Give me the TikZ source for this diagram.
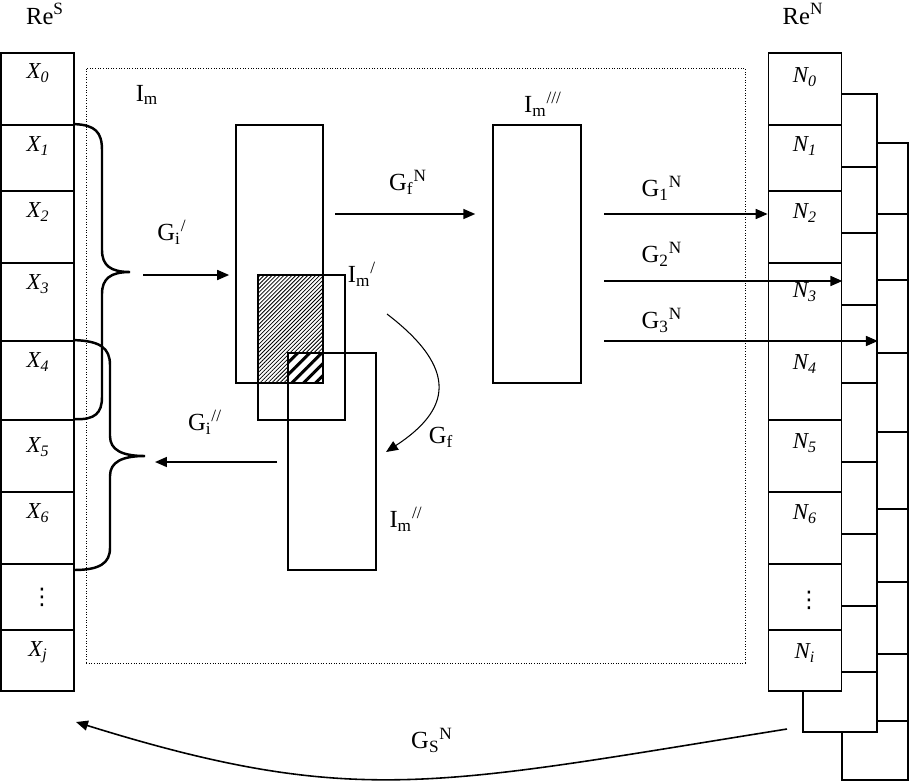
\documentclass[tikz,border=0pt]{standalone}
\usepackage{fontspec}
\setmainfont{Liberation Serif}
\newfontfamily\dotsfont{DejaVu Sans}
\usetikzlibrary{arrows.meta,patterns.meta}

\begin{document}
\begin{tikzpicture}[x=0.02cm, y=-0.02cm]
\tikzstyle{cell}=[draw, fill=white, line width=1pt, minimum width=1.46cm, inner sep=0pt];
\tikzstyle{frame}=[draw, line width=1pt, inner sep=0pt];
\tikzstyle{lab}=[inner sep=0pt, font=\fontsize{14}{16}\selectfont];
\tikzstyle{idx}=[inner sep=0pt, font=\fontsize{13}{15}\selectfont\itshape];
\tikzstyle{vdot}=[inner sep=0pt, font=\fontsize{13}{15}\selectfont\dotsfont];
\tikzstyle{arr}=[line width=0.9pt, -{Triangle[length=6.8pt,width=5.7pt]}];
\tikzstyle{brace}=[line width=1.4pt];
\useasboundingbox (0,0) rectangle (910,782);
% dotted frame I_m
\node[draw, densely dotted, line width=0.5pt, minimum width=13.18cm, minimum height=11.9cm] (imframe) at (415.5,365.5) {};
% Re^S
\node[cell, minimum height=1.44cm] (cx0) at (37.5,89) {};
\node[cell, minimum height=1.32cm] (cx1) at (37.5,158) {};
\node[cell, minimum height=1.44cm] (cx2) at (37.5,227) {};
\node[cell, minimum height=1.56cm] (cx3) at (37.5,302) {};
\node[cell, minimum height=1.58cm] (cx4) at (37.5,380.5) {};
\node[cell, minimum height=1.44cm] (cx5) at (37.5,456) {};
\node[cell, minimum height=1.44cm] (cx6) at (37.5,528) {};
\node[cell, minimum height=1.32cm] (cxd) at (37.5,597) {};
\node[cell, minimum height=1.22cm] (cxj) at (37.5,660.5) {};
\node[idx] (x0) at (38,73) {X\textsubscript{0}};
\node[idx] (x1) at (38,146) {X\textsubscript{1}};
\node[idx] (x2) at (38,212) {X\textsubscript{2}};
\node[idx] (x3) at (38,284) {X\textsubscript{3}};
\node[idx] (x4) at (38,362) {X\textsubscript{4}};
\node[idx] (x5) at (38,447) {X\textsubscript{5}};
\node[idx] (x6) at (38,513) {X\textsubscript{6}};
\node[vdot] (xd) at (42,597) {⋮};
\node[idx] (xj) at (38,652) {X\textsubscript{j}};
\node[lab] (res) at (45,14) {Re\textsuperscript{S}};
% Re^N, two copies behind
\node[draw, fill=white, line width=1pt, minimum width=1.32cm, minimum height=12.74cm] (bk3) at (875,461.5) {};
\draw[line width=1pt] (842,214) -- (908,214) (842,280) -- (908,280)
(842,353) -- (908,353) (842,432) -- (908,432)
(842,509) -- (908,509) (842,582) -- (908,582)
(842,654) -- (908,654) (842,721) -- (908,721);
\node[draw, fill=white, line width=1pt, minimum width=1.48cm, minimum height=12.76cm] (bk2) at (840,413) {};
\draw[line width=1pt] (803,167) -- (877,167) (803,233) -- (877,233)
(803,305) -- (877,305) (803,383) -- (877,383)
(803,462) -- (877,462) (803,534) -- (877,534)
(803,606) -- (877,606) (803,672) -- (877,672);
\node[cell, minimum height=1.44cm] (cn0) at (805,89) {};
\node[cell, minimum height=1.32cm] (cn1) at (805,158) {};
\node[cell, minimum height=1.44cm] (cn2) at (805,227) {};
\node[cell, minimum height=1.56cm] (cn3) at (805,302) {};
\node[cell, minimum height=1.58cm] (cn4) at (805,380.5) {};
\node[cell, minimum height=1.44cm] (cn5) at (805,456) {};
\node[cell, minimum height=1.44cm] (cn6) at (805,528) {};
\node[cell, minimum height=1.32cm] (cnd) at (805,597) {};
\node[cell, minimum height=1.22cm] (cni) at (805,660.5) {};
\node[idx] (n0) at (805,77) {N\textsubscript{0}};
\node[idx] (n1) at (805,146) {N\textsubscript{1}};
\node[idx] (n2) at (805,213) {N\textsubscript{2}};
\node[idx] (n3) at (805,292) {N\textsubscript{3}};
\node[idx] (n4) at (805,364) {N\textsubscript{4}};
\node[idx] (n5) at (805,443) {N\textsubscript{5}};
\node[idx] (n6) at (805,514) {N\textsubscript{6}};
\node[vdot] (nd) at (809,600) {⋮};
\node[idx] (ni) at (805,653) {N\textsubscript{i}};
\node[lab] (ren) at (803,14) {Re\textsuperscript{N}};
% braces
\draw[brace] (cx1.north east) .. controls (95,125) and (102,132) .. (102,150) -- (102,250)
.. controls (102,265) and (110,272) .. (130,272) .. controls (110,272) and (102,279) .. (102,294)
-- (102,397) .. controls (102,413) and (95,420) .. (cx5.north east);
\draw[brace] (cx4.north east) .. controls (100,341) and (110,348) .. (110,365) -- (110,436)
.. controls (110,450) and (122,456) .. (145,456) .. controls (122,456) and (110,462) .. (110,476)
-- (110,548) .. controls (110,563) and (100,570) .. (74,570);
% hatched overlaps
\fill[pattern={Lines[angle=45,distance=1.6pt,line width=0.45pt]}] (258,275) rectangle (323,383);
\fill[white] (288,353) rectangle (323,383);
\fill[pattern={Lines[angle=45,distance=4.8pt,line width=1.7pt]}] (288,353) rectangle (323,383);
% inner images
\node[frame, minimum width=1.74cm, minimum height=5.16cm] (ima) at (279.5,254) {};
\node[frame, minimum width=1.74cm, minimum height=2.9cm] (imi) at (301.5,347.5) {};
\node[frame, minimum width=1.76cm, minimum height=4.34cm] (imii) at (332,461.5) {};
\node[frame, minimum width=1.76cm, minimum height=5.16cm] (imiii) at (537,254) {};
\node[lab] (im) at (147,95) {I\textsubscript{m}};
\node[lab] (lim1) at (362,274) {I\textsubscript{m}\textsuperscript{/}};
\node[lab] (lim2) at (406,519) {I\textsubscript{m}\textsuperscript{//}};
\node[lab] (lim3) at (543,104) {I\textsubscript{m}\textsuperscript{///}};
% arrows
\coordinate (gi1) at (143,275);
\coordinate (br2) at (145,462);
\coordinate (gfn) at (335,214);
\coordinate (g1) at (604,214);
\coordinate (g2) at (604,281);
\coordinate (g3) at (604,341);
\coordinate (gfa) at (387,314);
\coordinate (gfb) at (386,452);
\coordinate (gsa) at (787,729);
\coordinate (gsb) at (76,722);
\draw[arr, shorten >=3.4pt] (gi1) -- (gi1 -| ima.west);
\draw[arr, shorten <=5.7pt, shorten >=5.7pt] (br2 -| imii.west) -- (br2);
\draw[arr, shorten >=9.6pt] (gfn) -- (gfn -| imiii.west);
\draw[arr] (g1) -- (g1 -| cn2.west);
\draw[arr] (g2) -- (g2 -| cn3.east);
\draw[arr] (g3) -- (g3 -| bk2.east);
\draw[line width=0.6pt, -{Triangle[length=6.8pt,width=5.7pt]}] (gfa) .. controls (460,370) and (450,410) .. (gfb);
\draw[arr] (gsa) .. controls (437,785) and (356,809) .. (gsb);
\node[lab] (lgi1) at (172,232) {G\textsubscript{i}\textsuperscript{/}};
\node[lab] (lgi2) at (205,422) {G\textsubscript{i}\textsuperscript{//}};
\node[lab] (lgfn) at (408,182) {G\textsubscript{f}\textsuperscript{N}};
\node[lab] (lgf) at (441,437) {G\textsubscript{f}};
\node[lab] (lg1) at (662,188) {G\textsubscript{1}\textsuperscript{N}};
\node[lab] (lg2) at (662,254) {G\textsubscript{2}\textsuperscript{N}};
\node[lab] (lg3) at (662,320) {G\textsubscript{3}\textsuperscript{N}};
\node[lab] (lgs) at (432,740) {G\textsubscript{S}\textsuperscript{N}};
\end{tikzpicture}
\end{document}
